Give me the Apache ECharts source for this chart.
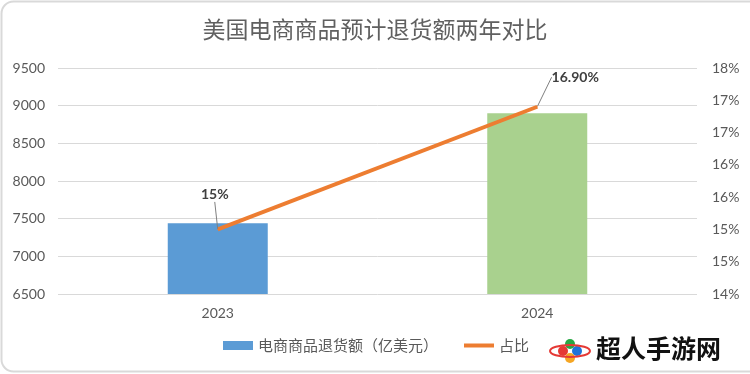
<!DOCTYPE html>
<html>
<head>
<meta charset="utf-8">
<script src="https://cdn.jsdelivr.net/npm/echarts@6/dist/echarts.min.js"></script>
<style>
html,body{margin:0;padding:0;background:#fff;}
#chart{width:750px;height:374px;}
</style>
</head>
<body>
<div id="chart"></div>
<script>
var titleText = '美国电商商品预计退货额两年对比';
var categories = ['2023', '2024'];
var barName = '电商商品退货额（亿美元）';
var lineName = '占比';
var barValues = [7440, 8900];
var barColors = ['#5B9BD5', '#A9D18E'];
var lineValues = [15, 16.9];
var lineLabels = ['15%', '16.90%'];
var leftTicks = { min: 6500, max: 9500, interval: 500 };
var rightTicks = { min: 14, max: 17.5, interval: 0.5 };

var numFont = 'Lato, "Noto Sans CJK SC", sans-serif';
var cjkFont = '"Noto Sans CJK SC", sans-serif';
var textColor = '#595959';

var chart = echarts.init(document.getElementById('chart'));
chart.setOption({
  backgroundColor: '#fff',
  animation: false,
  title: {
    text: titleText,
    left: 'center',
    top: 13,
    textStyle: { fontFamily: cjkFont, fontSize: 23, fontWeight: 'normal', color: '#606060' }
  },
  grid: { left: 58, right: 53, top: 68, bottom: 80 },
  legend: {
    bottom: 16,
    left: 218,
    itemGap: 26,
    itemWidth: 30,
    itemHeight: 9,
    textStyle: { fontFamily: cjkFont, fontSize: 15, color: textColor },
    data: [
      { name: barName, icon: 'rect' },
      { name: lineName, icon: 'path://M0,0 L30,0 L30,4 L0,4 Z', itemStyle: { color: '#ED7D31' } }
    ]
  },
  xAxis: {
    type: 'category',
    data: categories,
    axisLine: { show: false },
    axisTick: { show: false },
    axisLabel: { fontFamily: numFont, fontSize: 14, color: textColor, margin: 12 }
  },
  yAxis: [
    {
      type: 'value',
      min: leftTicks.min, max: leftTicks.max, interval: leftTicks.interval,
      axisLine: { show: false }, axisTick: { show: false },
      axisLabel: { fontFamily: numFont, fontSize: 14, color: textColor, margin: 13,
        formatter: function (v) { return String(v); } },
      splitLine: { lineStyle: { color: '#d9d9d9', width: 1 } }
    },
    {
      type: 'value',
      min: rightTicks.min, max: rightTicks.max, interval: rightTicks.interval,
      axisLine: { show: false }, axisTick: { show: false },
      axisLabel: { fontFamily: numFont, fontSize: 14, color: textColor, margin: 15,
        formatter: function (v) { return Math.round(v) + '%'; } },
      splitLine: { show: false }
    }
  ],
  series: [
    {
      name: barName,
      type: 'bar',
      barWidth: 100,
      itemStyle: { color: barColors[0] },
      data: barValues.map(function (v, i) { return { value: v, itemStyle: { color: barColors[i] } }; })
    },
    {
      name: lineName,
      type: 'line',
      yAxisIndex: 1,
      symbol: 'circle',
      symbolSize: 1,
      showSymbol: true,
      lineStyle: { color: '#ED7D31', width: 4 },
      itemStyle: { color: '#ED7D31' },
      data: lineValues,
      label: {
        show: true,
        position: 'top',
        fontFamily: numFont,
        fontSize: 14,
        fontWeight: 'bold',
        color: '#404040',
        formatter: function (p) { return lineLabels[p.dataIndex]; }
      },
      labelLine: { show: true, lineStyle: { color: '#7f7f7f', width: 1 } },
      labelLayout: function (p) {
        return p.dataIndex === 0 ? { dx: -3, dy: -22 } : { dx: 38, dy: -17 };
      }
    }
  ],
  graphic: [
    {
      type: 'rect',
      shape: { x: 1.5, y: 1.5, width: 760, height: 370, r: 12 },
      style: { fill: 'none', stroke: '#d9d9d9', lineWidth: 2 },
      silent: true
    },
    {
      type: 'group',
      right: 8,
      bottom: 8,
      children: [
        { type: 'rect', shape: { x: -6, y: -6, width: 200, height: 44 }, style: { fill: '#fff' } },
        { type: 'circle', shape: { cx: 22, cy: 16, r: 5 }, style: { fill: '#27a844' } },
        { type: 'circle', shape: { cx: 15, cy: 23, r: 5 }, style: { fill: '#e53935' } },
        { type: 'circle', shape: { cx: 29, cy: 23, r: 5 }, style: { fill: '#1e73d8' } },
        { type: 'circle', shape: { cx: 22, cy: 30, r: 5 }, style: { fill: '#f5a623' } },
        { type: 'ellipse', shape: { cx: 22, cy: 23, rx: 20, ry: 6 }, style: { fill: 'none', stroke: '#e53935', lineWidth: 2 } },
        { type: 'text', x: 48, y: 8, style: { text: '超人手游网', font: 'bold 25px "Noto Sans CJK SC"', fill: '#111' } }
      ]
    }
  ]
});
</script>
</body>
</html>
